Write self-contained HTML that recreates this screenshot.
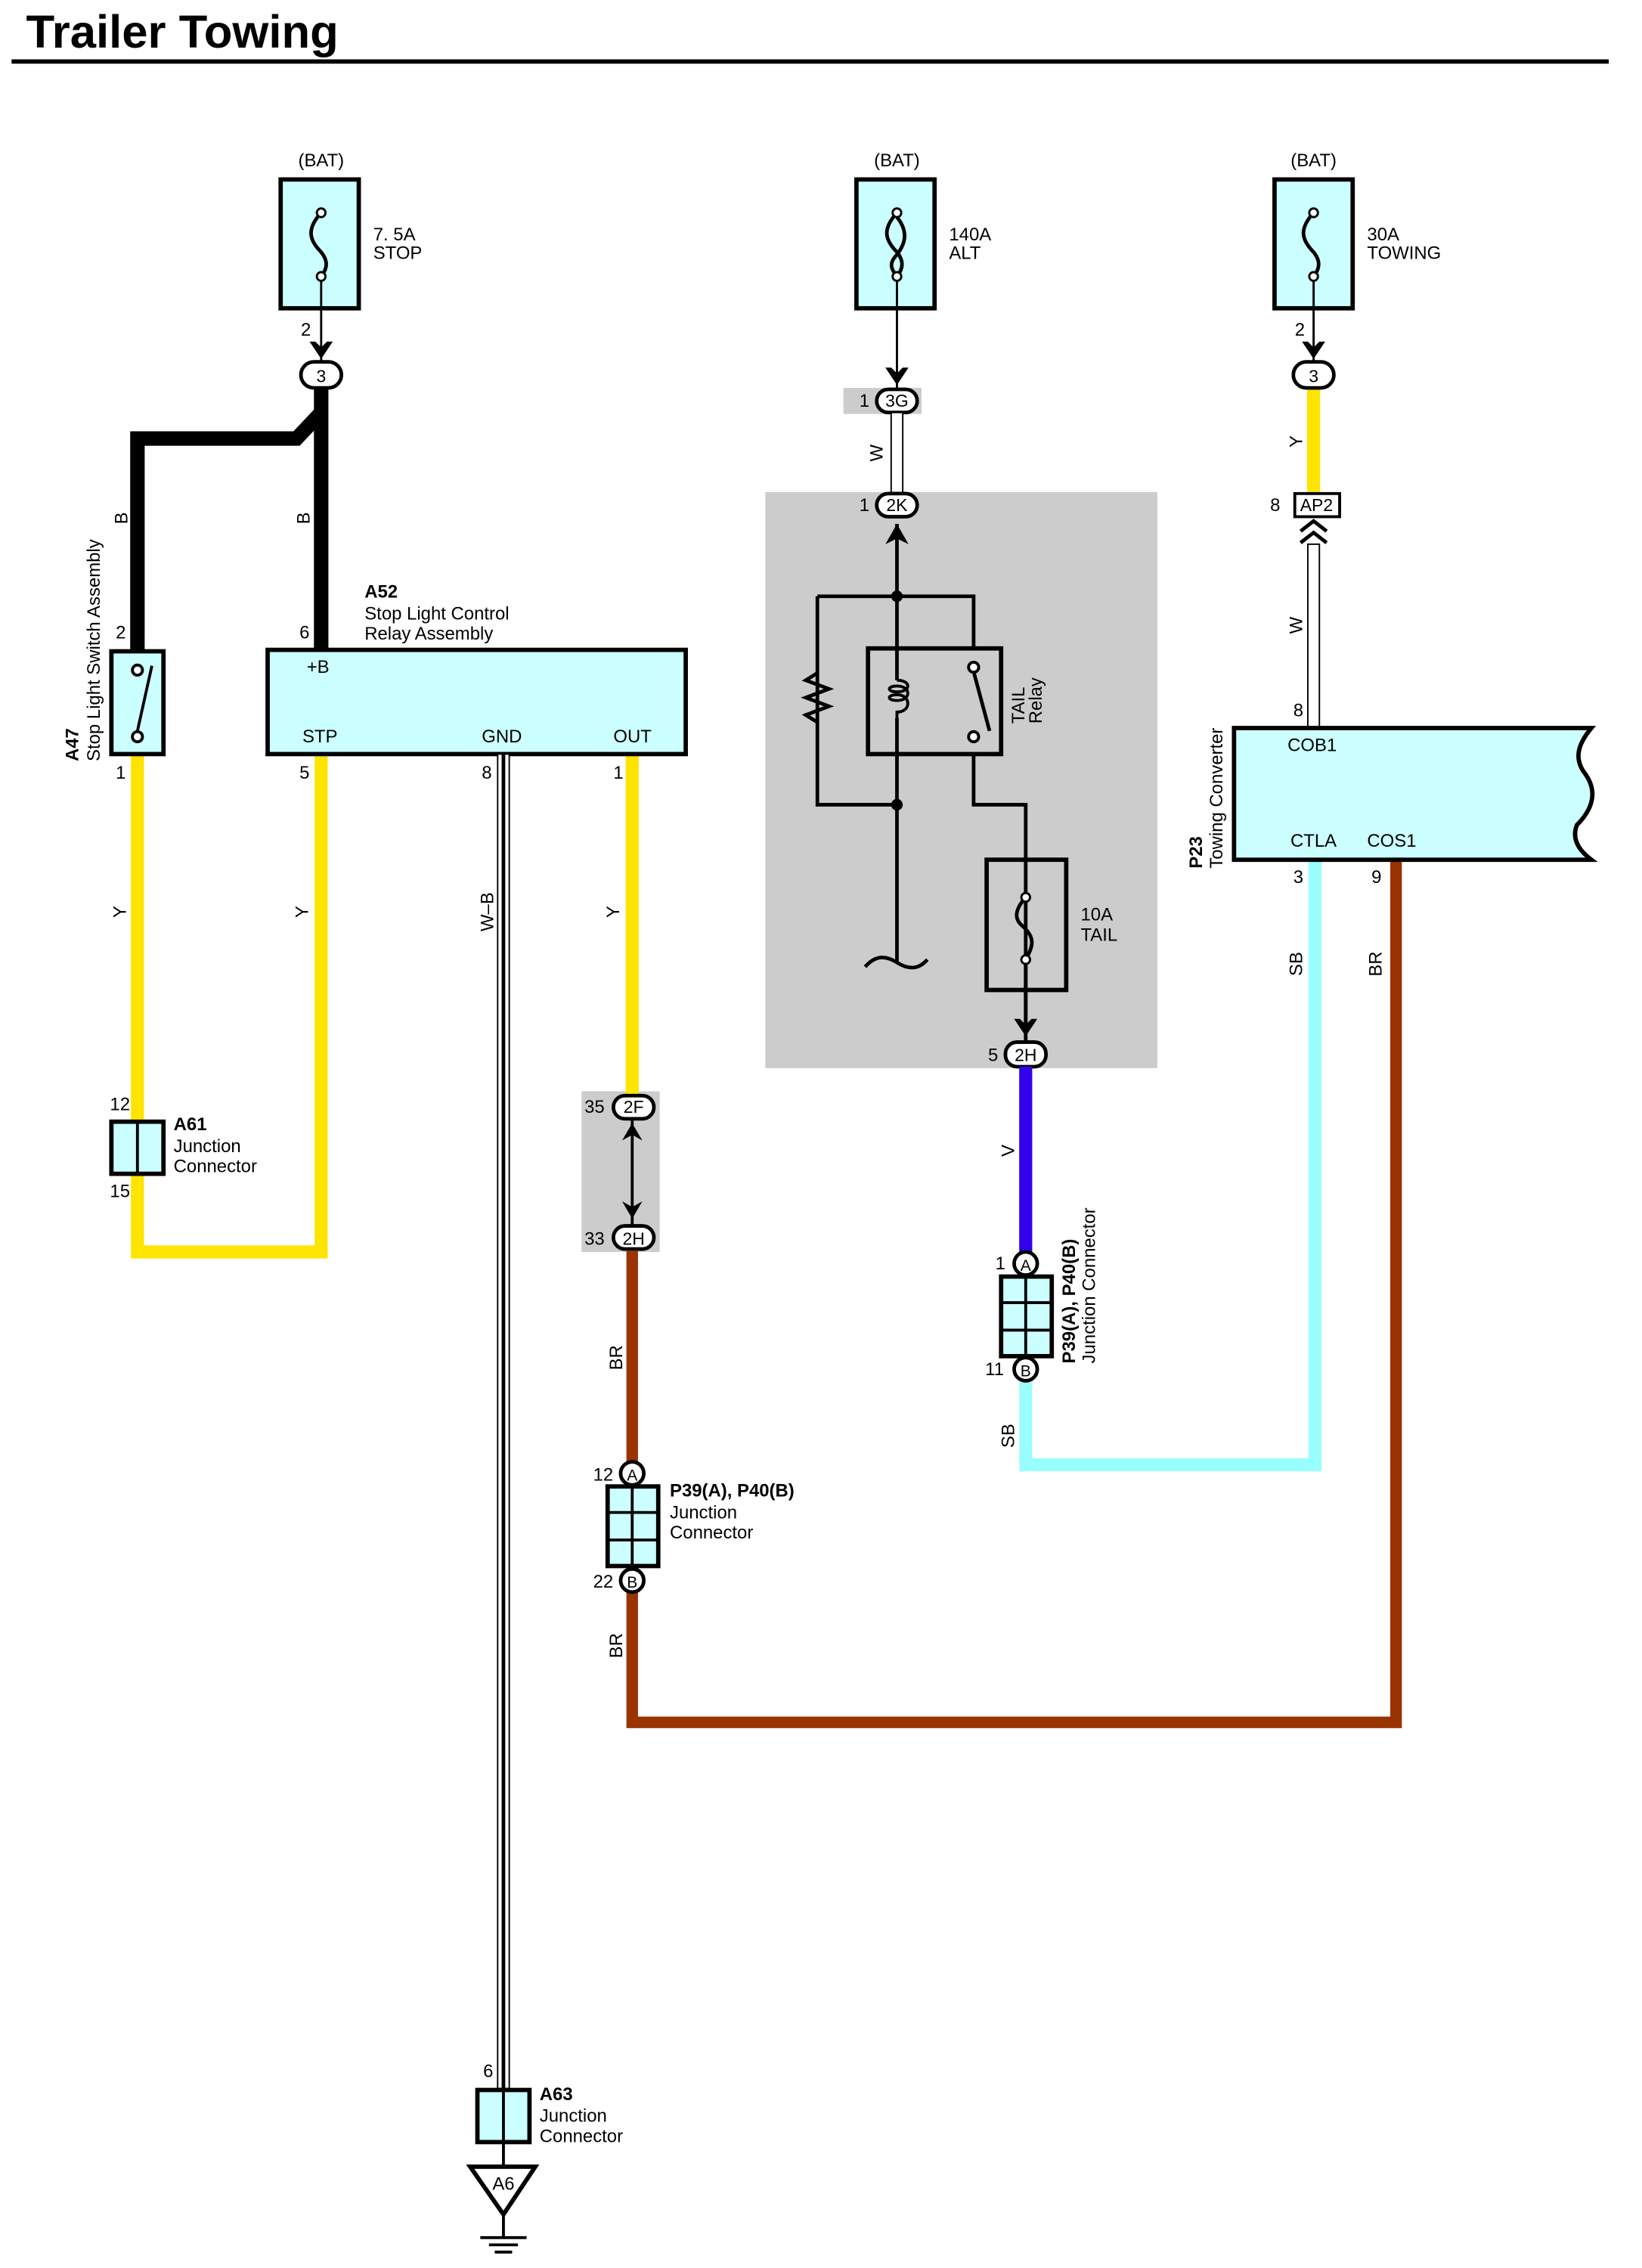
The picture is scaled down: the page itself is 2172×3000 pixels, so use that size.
<!DOCTYPE html>
<html><head><meta charset="utf-8"><style>html,body{margin:0;padding:0;background:#fff}svg{display:block}</style></head><body>
<svg width="2172" height="3000" viewBox="0 0 1135 1567" preserveAspectRatio="none" xmlns="http://www.w3.org/2000/svg" font-family="Liberation Sans, sans-serif" font-size="12.5">
<text x="18" y="33" font-size="32" font-weight="bold" textLength="216" lengthAdjust="spacingAndGlyphs">Trailer Towing</text>
<rect x="8" y="41" width="1104" height="3" fill="#000"/>

<rect x="529" y="340" width="271" height="398" fill="#cccccc"/>
<rect x="583" y="268" width="54" height="18" fill="#cccccc"/>
<rect x="402" y="754" width="54" height="111" fill="#cccccc"/>

<!-- Fuse 1 -->
<text x="222" y="115" text-anchor="middle">(BAT)</text>
<rect x="194" y="124" width="54" height="89" fill="#ccffff" stroke="#000" stroke-width="3"/>
<path d="M222 147 C212 158,214 165,220 172 C228 180,226 186,222 191" fill="none" stroke="#000" stroke-width="2.5"/>
<circle cx="222" cy="147" r="3" fill="#fff" stroke="#000" stroke-width="1.5"/>
<circle cx="222" cy="191" r="3" fill="#fff" stroke="#000" stroke-width="1.5"/>
<line x1="222" y1="194" x2="222" y2="250" stroke="#000" stroke-width="1.5"/>
<path d="M214 236 L222 248 L230 236 L226 236 L222 240 L218 236Z" fill="#000"/>
<text x="258" y="166">7. 5A</text><text x="258" y="179">STOP</text>
<text x="208" y="232">2</text>
<rect x="208" y="250" width="28" height="18" rx="9" fill="#fff" stroke="#000" stroke-width="2.5"/>
<text x="222" y="264" text-anchor="middle" font-size="12">3</text>

<path d="M222 268 V449 M222 285 L205 303 H95 V450" fill="none" stroke="#000" stroke-width="10"/>
<text transform="translate(88,358) rotate(-90)" text-anchor="middle">B</text>
<text transform="translate(214,358) rotate(-90)" text-anchor="middle">B</text>

<path d="M95 521 V865 H222 V521" fill="none" stroke="#ffe400" stroke-width="9"/>
<path d="M437 521 V756" fill="none" stroke="#ffe400" stroke-width="9"/>
<path d="M908 268 V340" fill="none" stroke="#ffe400" stroke-width="9"/>

<!-- A47 -->
<rect x="77" y="450" width="36" height="71" fill="#ccffff" stroke="#000" stroke-width="3"/>
<circle cx="95" cy="463" r="3.5" fill="#fff" stroke="#000" stroke-width="2"/>
<circle cx="95" cy="509" r="3.5" fill="#fff" stroke="#000" stroke-width="2"/>
<line x1="95" y1="505" x2="105" y2="460" stroke="#000" stroke-width="2"/>
<text x="80" y="441">2</text><text x="80" y="538">1</text>
<text transform="translate(54,526) rotate(-90)" font-weight="bold">A47</text>
<text transform="translate(69,526) rotate(-90)">Stop Light Switch Assembly</text>

<!-- A52 -->
<rect x="185" y="449" width="289" height="72" fill="#ccffff" stroke="#000" stroke-width="3"/>
<text x="212" y="465">+B</text><text x="209" y="513">STP</text><text x="333" y="513">GND</text><text x="424" y="513">OUT</text>
<text x="252" y="413" font-weight="bold">A52</text>
<text x="252" y="428">Stop Light Control</text><text x="252" y="442">Relay Assembly</text>
<text x="207" y="441">6</text><text x="207" y="538">5</text><text x="333" y="538">8</text><text x="424" y="538">1</text>
<text transform="translate(87,630) rotate(-90)" text-anchor="middle">Y</text>
<text transform="translate(213,630) rotate(-90)" text-anchor="middle">Y</text>
<text transform="translate(428,630) rotate(-90)" text-anchor="middle">Y</text>
<text transform="translate(341,630) rotate(-90)" text-anchor="middle">W–B</text>

<!-- A61 -->
<rect x="77" y="775" width="36" height="36" fill="#ccffff" stroke="#000" stroke-width="3"/>
<line x1="95" y1="775" x2="95" y2="811" stroke="#000" stroke-width="2"/>
<text x="76" y="767">12</text><text x="76" y="827">15</text>
<text x="120" y="781" font-weight="bold">A61</text><text x="120" y="796">Junction</text><text x="120" y="810">Connector</text>

<!-- W-B ground -->
<rect x="344" y="521" width="8" height="922" fill="#fff" stroke="#000" stroke-width="1"/>
<line x1="348" y1="521" x2="348" y2="1443" stroke="#000" stroke-width="2.5"/>
<text x="334" y="1435">6</text>
<rect x="330" y="1444" width="36" height="36" fill="#ccffff" stroke="#000" stroke-width="3"/>
<line x1="348" y1="1444" x2="348" y2="1497" stroke="#000" stroke-width="2"/>
<text x="373" y="1451" font-weight="bold">A63</text><text x="373" y="1466">Junction</text><text x="373" y="1480">Connector</text>
<path d="M325 1497 H370 L348 1530Z" fill="#fff" stroke="#000" stroke-width="3"/>
<text x="348" y="1513" text-anchor="middle">A6</text>
<path d="M348 1530 V1546 M332 1546 H364 M338 1551 H358 M342 1556 H354" stroke="#000" stroke-width="2"/>

<!-- 2F / 2H -->
<rect x="424" y="757" width="28" height="16" rx="8" fill="#fff" stroke="#000" stroke-width="2.5"/>
<text x="438" y="769" text-anchor="middle" font-size="12">2F</text><text x="404" y="769">35</text>
<line x1="437" y1="773" x2="437" y2="846" stroke="#000" stroke-width="2"/>
<path d="M430 788 L437 776 L444 788 L437 784Z M430 830 L437 842 L444 830 L437 834Z" fill="#000"/>
<rect x="424" y="847" width="28" height="16" rx="8" fill="#fff" stroke="#000" stroke-width="2.5"/>
<text x="438" y="860" text-anchor="middle" font-size="12">2H</text><text x="404" y="860">33</text>

<path d="M437 864 V1190 H965 V595" fill="none" stroke="#993300" stroke-width="8"/>
<text transform="translate(430,938) rotate(-90)" text-anchor="middle">BR</text>
<text transform="translate(430,1137) rotate(-90)" text-anchor="middle">BR</text>
<text transform="translate(955,666) rotate(-90)" text-anchor="middle">BR</text>

<!-- P39 left -->
<circle cx="437" cy="1018" r="8" fill="#fff" stroke="#000" stroke-width="2.5"/><text x="437" y="1023" text-anchor="middle" font-size="11">A</text>
<rect x="420" y="1027" width="35" height="55" fill="#ccffff" stroke="#000" stroke-width="3"/>
<path d="M437 1027 V1082 M420 1045 H455 M420 1064 H455" stroke="#000" stroke-width="2"/>
<circle cx="437" cy="1092" r="8" fill="#fff" stroke="#000" stroke-width="2.5"/><text x="437" y="1097" text-anchor="middle" font-size="11">B</text>
<text x="410" y="1023">12</text><text x="410" y="1097">22</text>
<text x="463" y="1034" font-weight="bold">P39(A), P40(B)</text><text x="463" y="1049">Junction</text><text x="463" y="1063">Connector</text>

<!-- Middle fuse -->
<text x="620" y="115" text-anchor="middle">(BAT)</text>
<rect x="592" y="124" width="54" height="89" fill="#ccffff" stroke="#000" stroke-width="3"/>
<path d="M620 147 C610 158,612 165,618 172 C626 180,624 186,620 191 M620 150 C628 160,626 168,620 176 C614 182,616 186,620 191" fill="none" stroke="#000" stroke-width="2.5"/>
<circle cx="620" cy="147" r="3" fill="#fff" stroke="#000" stroke-width="1.5"/>
<circle cx="620" cy="191" r="3" fill="#fff" stroke="#000" stroke-width="1.5"/>
<line x1="620" y1="194" x2="620" y2="268" stroke="#000" stroke-width="1.5"/>
<path d="M612 254 L620 266 L628 254 L624 254 L620 258 L616 254Z" fill="#000"/>
<text x="656" y="166">140A</text><text x="656" y="179">ALT</text>
<rect x="606" y="269" width="28" height="16" rx="8" fill="#fff" stroke="#000" stroke-width="2.5"/>
<text x="620" y="281" text-anchor="middle" font-size="12">3G</text><text x="594" y="281">1</text>
<rect x="616" y="285" width="8" height="56" fill="#fff" stroke="#000" stroke-width="1"/>
<text transform="translate(610,313) rotate(-90)" text-anchor="middle">W</text>
<rect x="606" y="341" width="28" height="16" rx="8" fill="#fff" stroke="#000" stroke-width="2.5"/>
<text x="620" y="353" text-anchor="middle" font-size="12">2K</text><text x="594" y="353">1</text>

<!-- relay internals -->
<path d="M620 362 V665" stroke="#000" stroke-width="2.5"/>
<path d="M612 376 L620 362 L628 376 L620 372Z" fill="#000"/>
<path d="M598 668 C605 660,612 660,620 665 C628 670,635 670,641 663" fill="none" stroke="#000" stroke-width="2.5"/>
<path d="M565 412 H673 V456 M565 412 V556 H620 M673 520 V556 H709 V710" fill="none" stroke="#000" stroke-width="2.5"/>
<path d="M565 465 L557 470 L573 476 L557 482 L573 488 L557 494 L565 499" fill="none" stroke="#000" stroke-width="2.5"/>
<circle cx="620" cy="412" r="4" fill="#000"/><circle cx="620" cy="556" r="4" fill="#000"/>
<rect x="600" y="448" width="92" height="73" fill="#cccccc" stroke="#000" stroke-width="3"/>
<path d="M620 448 V470 M620 496 V521" stroke="#000" stroke-width="2.5"/>
<path d="M620 470 C630 470,630 478,620 478 C613 478,613 474,620 474 C630 474,630 484,620 484 C613 484,613 480,620 480 C630 480,630 492,620 492 V496" fill="none" stroke="#000" stroke-width="2"/>
<circle cx="673" cy="461" r="3.5" fill="#fff" stroke="#000" stroke-width="2"/>
<circle cx="673" cy="509" r="3.5" fill="#fff" stroke="#000" stroke-width="2"/>
<line x1="673" y1="464" x2="684" y2="505" stroke="#000" stroke-width="2.5"/>
<text transform="translate(708,500) rotate(-90)">TAIL</text><text transform="translate(720,500) rotate(-90)">Relay</text>
<rect x="682" y="594" width="55" height="90" fill="none" stroke="#000" stroke-width="3"/>
<path d="M709 620 C700 630,702 636,707 640 C716 648,714 654,709 663" fill="none" stroke="#000" stroke-width="2.5"/>
<circle cx="709" cy="620" r="3" fill="#fff" stroke="#000" stroke-width="1.5"/>
<circle cx="709" cy="663" r="3" fill="#fff" stroke="#000" stroke-width="1.5"/>
<line x1="709" y1="666" x2="709" y2="720" stroke="#000" stroke-width="2.5"/>
<path d="M701 704 L709 716 L717 704 L713 704 L709 708 L705 704Z" fill="#000"/>
<text x="747" y="636">10A</text><text x="747" y="650">TAIL</text>
<rect x="695" y="720" width="28" height="17" rx="8" fill="#fff" stroke="#000" stroke-width="2.5"/>
<text x="709" y="733" text-anchor="middle" font-size="12">2H</text><text x="683" y="733">5</text>

<path d="M709 737 V865" stroke="#3300ee" stroke-width="9"/>
<text transform="translate(701,795) rotate(-90)" text-anchor="middle">V</text>
<path d="M709 955 V1012 H909 V595" fill="none" stroke="#99ffff" stroke-width="9"/>
<text transform="translate(701,992) rotate(-90)" text-anchor="middle">SB</text>
<text transform="translate(900,666) rotate(-90)" text-anchor="middle">SB</text>
<circle cx="709" cy="873" r="8" fill="#fff" stroke="#000" stroke-width="2.5"/><text x="709" y="878" text-anchor="middle" font-size="11">A</text>
<rect x="692" y="882" width="35" height="55" fill="#ccffff" stroke="#000" stroke-width="3"/>
<path d="M709 882 V937 M692 900 H727 M692 919 H727" stroke="#000" stroke-width="2"/>
<circle cx="709" cy="946" r="8" fill="#fff" stroke="#000" stroke-width="2.5"/><text x="709" y="951" text-anchor="middle" font-size="11">B</text>
<text x="688" y="877">1</text><text x="681" y="950">11</text>
<text transform="translate(743,942) rotate(-90)" font-weight="bold">P39(A), P40(B)</text>
<text transform="translate(757,942) rotate(-90)">Junction Connector</text>

<!-- Right fuse -->
<text x="908" y="115" text-anchor="middle">(BAT)</text>
<rect x="881" y="124" width="54" height="89" fill="#ccffff" stroke="#000" stroke-width="3"/>
<path d="M908 147 C898 158,900 165,906 172 C914 180,912 186,908 191" fill="none" stroke="#000" stroke-width="2.5"/>
<circle cx="908" cy="147" r="3" fill="#fff" stroke="#000" stroke-width="1.5"/>
<circle cx="908" cy="191" r="3" fill="#fff" stroke="#000" stroke-width="1.5"/>
<line x1="908" y1="194" x2="908" y2="250" stroke="#000" stroke-width="1.5"/>
<path d="M900 236 L908 248 L916 236 L912 236 L908 240 L904 236Z" fill="#000"/>
<text x="945" y="166">30A</text><text x="945" y="179">TOWING</text>
<text x="895" y="232">2</text>
<rect x="894" y="250" width="28" height="18" rx="9" fill="#fff" stroke="#000" stroke-width="2.5"/>
<text x="908" y="264" text-anchor="middle" font-size="12">3</text>
<text transform="translate(900,305) rotate(-90)" text-anchor="middle">Y</text>
<rect x="895" y="341" width="31" height="16" fill="#fff" stroke="#000" stroke-width="2"/>
<text x="910" y="353" text-anchor="middle" font-size="12">AP2</text><text x="878" y="353">8</text>
<path d="M899 367 L908 360 L917 367 M899 375 L908 368 L917 375" fill="none" stroke="#000" stroke-width="2.5"/>
<rect x="904" y="376" width="8" height="127" fill="#fff" stroke="#000" stroke-width="1"/>
<text transform="translate(900,432) rotate(-90)" text-anchor="middle">W</text>
<text x="894" y="495">8</text>

<path d="M853 503 H1100 C1090 515,1088 525,1096 535 C1105 548,1100 560,1090 570 C1086 580,1092 588,1100 594 H853Z" fill="#ccffff" stroke="#000" stroke-width="3"/>
<text x="890" y="519">COB1</text><text x="892" y="585">CTLA</text><text x="945" y="585">COS1</text>
<text x="894" y="610">3</text><text x="948" y="610">9</text>
<text transform="translate(831,600) rotate(-90)" font-weight="bold">P23</text>
<text transform="translate(845,600) rotate(-90)">Towing Converter</text>
</svg>
</body></html>
